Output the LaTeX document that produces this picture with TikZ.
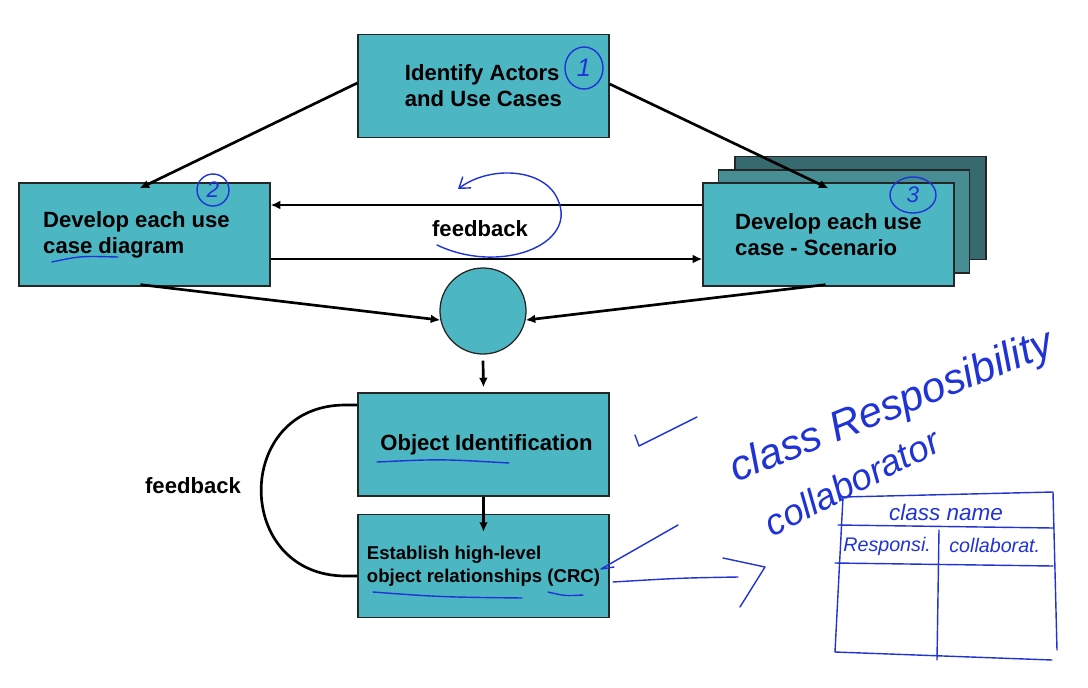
\documentclass[tikz,border=0pt]{standalone}
\usepackage{fontspec}
\setmainfont{Liberation Sans}
\usetikzlibrary{arrows.meta, positioning, shapes.geometric, calc}
\definecolor{cteal}{HTML}{4DB6C3}
\definecolor{ctealmid}{HTML}{468E94}
\definecolor{cteallow}{HTML}{376A6E}
\definecolor{cink}{HTML}{1F33D6}
\tikzset{
  every picture/.style={font=\bfseries, line width=1.9pt},
  box/.style={draw=black!85, fill=#1, line width=0.9pt, align=left, inner sep=0pt,
    minimum width=6.275cm, minimum height=2.575cm, font=\bfseries\fontsize{15.7}{18.4}\selectfont},
  box/.default=cteal,
  arrow/.style={-{Latex[length=2.4mm, width=2.2mm]}, draw=black},
  label/.style={font=\bfseries\fontsize{15.7}{18.4}\selectfont},
  ink/.style={draw=cink, line width=1pt, line cap=round, line join=round},
  scrawl/.style={text=cink, font=\mdseries\itshape\fontsize{#1}{#1}\selectfont, inner sep=0pt},
  scrawl/.default=15,
}

\begin{document}
\begin{tikzpicture}[x=0.025cm, y=-0.025cm]
  \useasboundingbox (0,0) rectangle (1088,687);
  % boxes
  \node[box] (actors) at (483.5,86) {Identify Actors\\and Use Cases};
  \node[box] (usecase) at (144.5,234.5) {Develop each use\hspace*{0.4cm}\\case diagram};
  \node[box=cteallow] (scenback) at (860.5,208) {};
  \node[box=ctealmid] (scenmid) at (844,221.5) {};
  \node[box] (scen) at (828.5,234.5) {Develop each use\\case - Scenario};
  \node[draw=black!85, fill=cteal, line width=0.9pt, circle, minimum size=2.15cm] (hub) at (483,311) {};
  \node[box] (objid) at (483.5,444.5) {\hspace*{0.15cm}Object Identification};
  \node[box, font=\bfseries\fontsize{13.2}{16.3}\selectfont] (crc) at (483.5,566) {Establish high-level\\object relationships (CRC)};
  % connectors
  \draw[arrow] ($(actors.west)+(0,-3)$) -- ($(usecase.north)+(-5,6)$);
  \draw[arrow] ($(actors.east)+(0,-2)$) -- ($(scen.north)+(0,6)$);
  \draw[arrow] ($(scen.west)+(0,-29.5)$) -- ($(usecase.east)+(0,-29.5)$);
  \draw[arrow] ($(usecase.east)+(0,24.5)$) -- ($(scen.west)+(0,24.5)$);
  \node[label] (fbtop) at (480,229) {feedback};
  \draw[arrow] ($(usecase.south)+(-4,-2)$) -- (hub.192);
  \draw[arrow] ($(scen.south)+(-3,-2)$) -- (hub.348);
  \draw[arrow] ($(hub.south)+(0,6)$) -- ($(objid.north)+(0,-5)$);
  \draw[arrow] (objid.south) -- ($(crc.north)+(0,18)$);
  \draw ($(objid.west)+(0,-39.5)$) -- ++(-12,0) .. controls (233,405) and (233,576) .. (346,576) -- ($(crc.west)+(0,10)$);
  \node[label] (fbleft) at (193,486) {feedback};
  % handwritten notes
  \node[ink, ellipse, minimum width=0.95cm, minimum height=1.05cm, inner sep=0pt] (num1) at (584,68) {};
  \node[scrawl=18] at (num1) {1};
  \node[ink, ellipse, minimum width=0.8cm, minimum height=0.8cm, inner sep=0pt] (num2) at (213,190) {};
  \node[scrawl=16] at (num2) {2};
  \node[ink, ellipse, minimum width=1.15cm, minimum height=0.9cm, inner sep=0pt] (num3) at (913,195) {};
  \node[scrawl=16] at (num3) {3};
  \draw[ink] (52,262) .. controls (80,256) .. (118,257);
  \draw[ink, -{Straight Barb[length=2.5mm, width=3.5mm]}] (437,245) .. controls (500,275) and (578,245) .. (558,200) .. controls (545,168) and (490,165) .. (458,189);
  \draw[ink] (377,462) .. controls (440,459) .. (509,463);
  \draw[ink] (373,592) .. controls (440,597) .. (522,598);
  \draw[ink] (548,592) .. controls (565,596) .. (583,595);
  \draw[ink] (635,435) -- (639,446) -- (697,417);
  \draw[ink] (678,525) -- (601,569) -- (614,567);
  \draw[ink] (613,582) .. controls (680,578) .. (738,577);
  \draw[ink] (723,558) -- (765,567) -- (740,607);
  \node[scrawl=30, rotate=22] (crcline) at (892,408) {class Resposibility};
  \node[scrawl=26, rotate=27] (collab) at (852,482) {collaborator};
  \draw[ink] (1057,650) -- (1053,492) -- (843,497) -- (835,652) -- (1052,660);
  \draw[ink] (838,525) -- (1053,528);
  \draw[ink] (835,563) -- (1053,566);
  \draw[ink] (939,530) -- (937,660);
  \node[scrawl=16] (cname) at (946,512) {class name};
  \node[scrawl=14, anchor=west] (resp) at (842,546) {Responsi.};
  \node[scrawl=14, anchor=west] (collcol) at (948,545) {collaborat.};
\end{tikzpicture}
\end{document}
